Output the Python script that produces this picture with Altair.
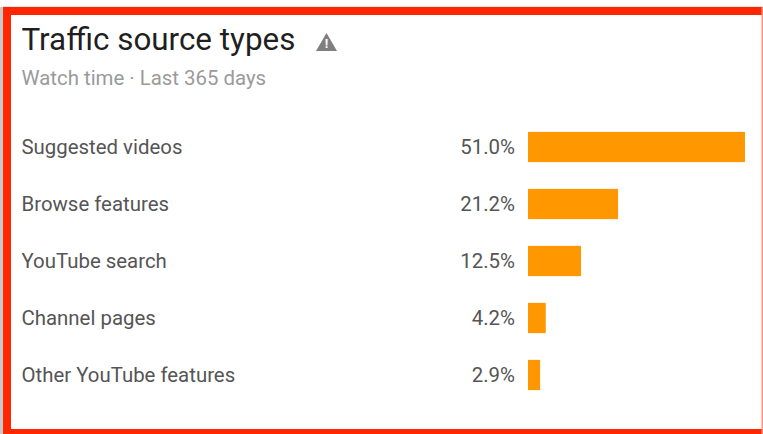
import altair as alt
import pandas as pd

# Traffic source breakdown, share of watch time
sources = ["Suggested videos", "Browse features", "YouTube search", "Channel pages", "Other YouTube features"]
shares = [51.0, 21.2, 12.5, 4.2, 2.9]
title_text = "Traffic source types"
subtitle_text = "Watch time · Last 365 days"
warning_icon = "M0,-1 L1.1,0.9 L-1.1,0.9 Z"

FONT = "Roboto"
LABEL_SIZE = 20.4
table = pd.DataFrame({"source": sources, "share": shares})
table["label"] = [f"{v:.1f}%" for v in shares]

x_scale = alt.Scale(domain=[0, 51], range=[528, 745])
y_scale = alt.Scale(domain=sources, range=[118.5, 403.5], paddingInner=26 / 57, paddingOuter=13 / 57)
y_enc = alt.Y("source:N", scale=y_scale, axis=None, sort=sources)

blank = alt.Data(values=[{"k": 0}])


def box(x0, x1, y0, y1, color):
    """Solid rectangle placed in chart pixels, used for the card frame."""
    return alt.Chart(blank).mark_rect(color=color).encode(
        x=alt.value(x0), x2=alt.value(x1), y=alt.value(y0), y2=alt.value(y1)
    )


def caption(text, x, y, size, color, weight=400, align="left"):
    return alt.Chart(blank).mark_text(
        text=text, align=align, baseline="middle", font=FONT, fontSize=size, color=color, fontWeight=weight
    ).encode(x=alt.value(x), y=alt.value(y))


frame = [
    box(0, 3, 7, 434, "#c9c9c9"),
    box(3, 763, 6, 7, "#e6e6e6"),
    box(3, 763, 7, 15, "#ff2600"),
    box(3, 11, 7, 434, "#ff2600"),
    box(3, 763, 429, 434, "#ff2600"),
    box(761.5, 763, 7, 434, "#ff8f7f"),
]

bars = alt.Chart(table).mark_bar(color="#ff9800", cornerRadius=1).encode(
    x=alt.X("share:Q", scale=x_scale, axis=None),
    y=y_enc,
)
names = alt.Chart(table).mark_text(
    align="left", baseline="middle", font=FONT, fontSize=LABEL_SIZE, color="#555555", dy=0.6
).encode(x=alt.value(21.5), y=y_enc, text="source:N")
values = alt.Chart(table).mark_text(
    align="right", baseline="middle", font=FONT, fontSize=LABEL_SIZE, color="#555555", dy=0.6
).encode(x=alt.value(515), y=y_enc, text="label:N")

icon = alt.Chart(blank).mark_point(
    shape=warning_icon, filled=True, color="#7f7f7f", opacity=1, size=365
).encode(x=alt.value(326.5), y=alt.value(42.5))

chart = alt.layer(
    *frame,
    bars,
    names,
    values,
    caption(title_text, 21.5, 40.5, 31.4, "#1f1f1f"),
    caption(subtitle_text, 21.5, 78.5, LABEL_SIZE, "#9a9a9a"),
    icon,
    caption("!", 326.5, 44, 13, "#ffffff", 700, "center"),
).properties(
    width=763,
    height=434,
    padding=0,
    autosize=alt.AutoSizeParams(type="none"),
    background="#ffffff",
).configure_view(stroke=None)

chart.save("out.html", embed_options={"renderer": "svg", "actions": False})
